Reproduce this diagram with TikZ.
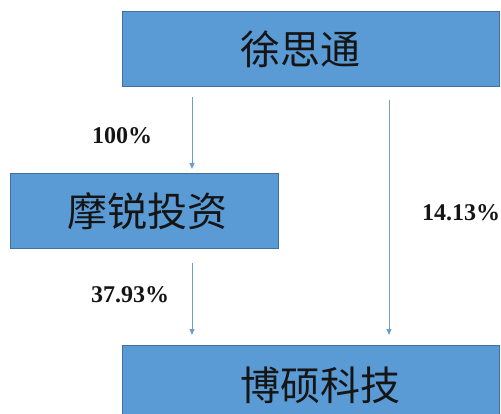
\documentclass[tikz,border=0pt]{standalone}
\usepackage{fontspec}
\setmainfont{Liberation Serif}
\newfontfamily\cjk{Noto Sans CJK SC}
\usetikzlibrary{arrows.meta}
\definecolor{boxfill}{HTML}{5B9BD5}
\definecolor{boxline}{HTML}{41719C}
\definecolor{arrcol}{HTML}{6E9DD3}
\definecolor{txt}{HTML}{151515}
\tikzset{
  entbox/.style={draw=boxline, line width=1pt, fill=boxfill, inner sep=0pt, outer sep=0pt,
    font=\cjk\fontsize{40}{44}\selectfont, text=txt},
  arr/.style={draw=arrcol, line width=1pt, -{Triangle[length=6pt,width=5pt]}},
  pct/.style={font=\bfseries\fontsize{24}{26}\selectfont, text=txt, inner sep=0pt}
}
\begin{document}
\begin{tikzpicture}[x=1pt,y=-1pt]
\useasboundingbox (0,0) rectangle (501,414);
\node[entbox, minimum width=377pt, minimum height=75pt] (top) at (310.5,49.5) {\hspace*{-20pt}徐思通};
\node[entbox, minimum width=268pt, minimum height=75pt] (mid) at (144,211.5) {\hspace*{6pt}摩锐投资};
\draw[boxline, line width=1pt, fill=boxfill] (122,345) rectangle (499,425);
\node[inner sep=0pt, outer sep=0pt, minimum width=377pt, minimum height=80pt,
  font=\cjk\fontsize{40}{44}\selectfont, text=txt] (bot) at (320,385) {博硕科技};
\coordinate (bot north) at (310.5,345);
\coordinate (ca) at (192,0);
\coordinate (cb) at (389,0);
\draw[arr, shorten <=10pt, shorten >=5pt] (top.south -| ca) -- (mid.north -| ca);
\draw[arr, shorten <=14pt, shorten >=10pt] (mid.south -| ca) -- (bot north -| ca);
\draw[arr, shorten <=13pt, shorten >=10pt] (top.south -| cb) -- (bot north -| cb);
\node[pct] (p1) at (122,136) {100\%};
\node[pct] (p2) at (130,295) {37.93\%};
\node[pct] (p3) at (461,213) {14.13\%};
\end{tikzpicture}
\end{document}
